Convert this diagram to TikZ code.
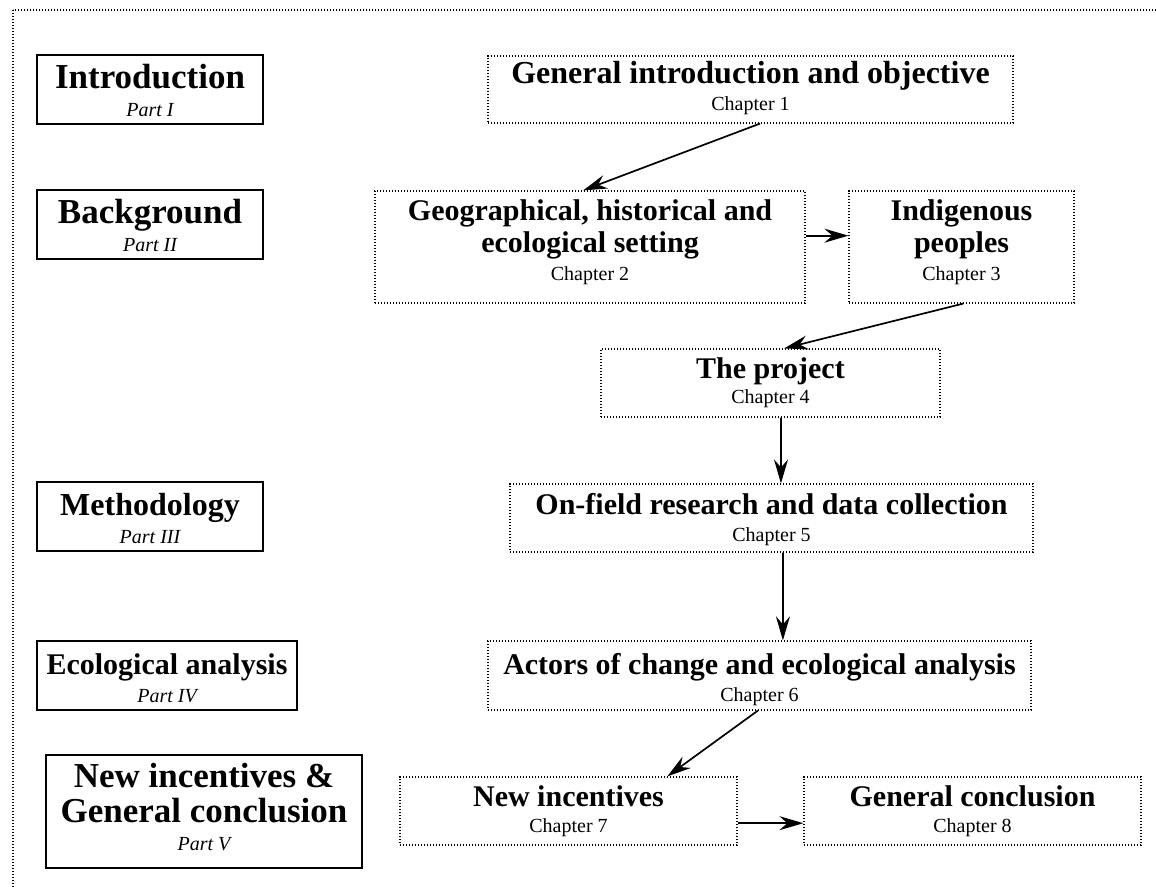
\documentclass[tikz,border=0pt]{standalone}
\usepackage{fontspec}
\setmainfont{Liberation Serif}
\usetikzlibrary{arrows.meta,calc}

\tikzset{
  partbox/.style={draw, line width=1.8pt, inner sep=0pt},
  chapbox/.style={draw, line width=1.2pt, dash pattern=on 1.2pt off 1.8pt, inner sep=0pt},
  frame/.style={line width=1.2pt, dash pattern=on 1.2pt off 1.8pt},
  conn/.style={line width=1.7pt, -{Stealth[length=24pt,width=14pt,inset=8pt]}},
  parttitle/.style={anchor=base, font=\fontsize{35}{40}\selectfont\bfseries},
  partsub/.style={anchor=base, font=\fontsize{20}{24}\selectfont\itshape},
  chaptitle/.style={anchor=base, font=\fontsize{30}{34}\selectfont\bfseries},
  chapsub/.style={anchor=base, font=\fontsize{20}{24}\selectfont},
}

\begin{document}
\begin{tikzpicture}[x=1pt, y=-1pt]
\clip (0,0) rectangle (1156,886);

% outer dotted frame (runs past the right and bottom edges)
\draw[frame] (13,10) rectangle (1200,920);

% ---- parts (left column) ----
\node[partbox, minimum width=226pt, minimum height=69pt] (p1) at (150,89.5) {};
\node[parttitle] (p1t) at (150,88) {Introduction};
\node[partsub] (p1s) at (150,116) {Part I};

\node[partbox, minimum width=226pt, minimum height=69pt] (p2) at (150,224.5) {};
\node[parttitle] (p2t) at (150,223) {Background};
\node[partsub] (p2s) at (150,251) {Part II};

\node[partbox, minimum width=226pt, minimum height=69pt] (p3) at (150,516.5) {};
\node[parttitle, font=\fontsize{32}{36}\selectfont\bfseries] (p3t) at (150,515) {Methodology};
\node[partsub] (p3s) at (150,543) {Part III};

\node[partbox, minimum width=260pt, minimum height=69pt] (p4) at (167,675.5) {};
\node[parttitle, font=\fontsize{30}{36}\selectfont\bfseries] (p4t) at (167,674) {Ecological analysis};
\node[partsub] (p4s) at (167,702) {Part IV};

\node[partbox, minimum width=316pt, minimum height=113pt] (p5) at (204,811.5) {};
\node[parttitle] (p5a) at (204,787) {New incentives \&};
\node[parttitle] (p5b) at (204,822) {General conclusion};
\node[partsub] (p5s) at (204,850) {Part V};

% ---- chapters ----
\node[chapbox, minimum width=525pt, minimum height=67pt] (c1) at (750.5,89.5) {};
\node[chaptitle, font=\fontsize{32}{36}\selectfont\bfseries] (c1t) at (750.5,83) {General introduction and objective};
\node[chapsub] (c1s) at (750.5,110) {Chapter 1};

\node[chapbox, minimum width=430pt, minimum height=112pt] (c2) at (590,247) {};
\node[chaptitle] (c2a) at (590,220) {Geographical, historical and};
\node[chaptitle] (c2b) at (590,252) {ecological setting};
\node[chapsub] (c2s) at (590,280) {Chapter 2};

\node[chapbox, minimum width=225pt, minimum height=112pt] (c3) at (961.5,247) {};
\node[chaptitle] (c3a) at (961.5,220) {Indigenous};
\node[chaptitle] (c3b) at (961.5,252) {peoples};
\node[chapsub] (c3s) at (961.5,280) {Chapter 3};

\node[chapbox, minimum width=339pt, minimum height=68pt] (c4) at (770.5,383) {};
\node[chaptitle] (c4t) at (770.5,378) {The project};
\node[chapsub] (c4s) at (770.5,403) {Chapter 4};

\node[chapbox, minimum width=523pt, minimum height=68pt] (c5) at (771.5,518) {};
\node[chaptitle] (c5t) at (771.5,514) {On-field research and data collection};
\node[chapsub] (c5s) at (771.5,541) {Chapter 5};

\node[chapbox, minimum width=543pt, minimum height=69pt] (c6) at (759.5,675.5) {};
\node[chaptitle] (c6t) at (759.5,674) {Actors of change and ecological analysis};
\node[chapsub] (c6s) at (759.5,701) {Chapter 6};

\node[chapbox, minimum width=337pt, minimum height=68pt] (c7) at (568.5,811) {};
\node[chaptitle] (c7t) at (568.5,806) {New incentives};
\node[chapsub] (c7s) at (568.5,832) {Chapter 7};

\node[chapbox, minimum width=337pt, minimum height=68pt] (c8) at (972.5,811) {};
\node[chaptitle] (c8t) at (972.5,806) {General conclusion};
\node[chapsub] (c8s) at (972.5,832) {Chapter 8};

% ---- reading order ----
\draw[conn] ($(c1.south west)!0.518!(c1.south east)$) -- ($(c2.north west)!0.484!(c2.north east)$);
\draw[conn] ($(c2.north east)!0.40!(c2.south east)$) -- ($(c3.north west)!0.40!(c3.south west)$);
\draw[conn] ($(c3.south west)!0.507!(c3.south east)$) -- ($(c4.north west)!0.54!(c4.north east)$);
\draw[conn] ($(c4.south west)!0.531!(c4.south east)$) -- ($(c5.north west)!0.518!(c5.north east)$);
\draw[conn] ($(c5.south west)!0.522!(c5.south east)$) -- ($(c6.north west)!0.543!(c6.north east)$);
\draw[conn] ($(c6.south west)!0.497!(c6.south east)$) -- ($(c7.north west)!0.792!(c7.north east)$);
\draw[conn] ($(c7.north east)!0.676!(c7.south east)$) -- ($(c8.north west)!0.676!(c8.south west)$);
\end{tikzpicture}
\end{document}
